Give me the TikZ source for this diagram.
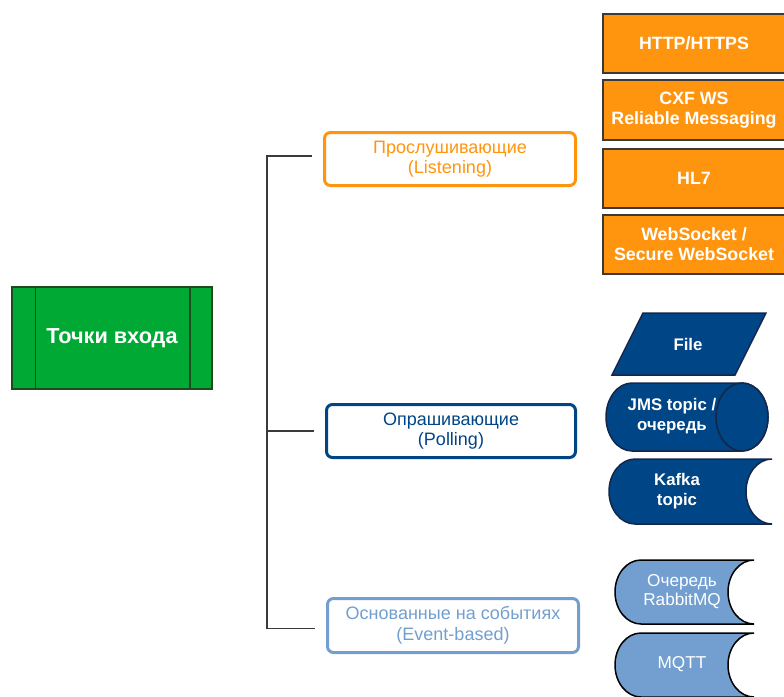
\documentclass[tikz,border=0pt]{standalone}
\usepackage{fontspec}
\setmainfont{Liberation Sans}

\definecolor{entrygreen}{HTML}{00A933}
\definecolor{entryedge}{HTML}{1E4A1E}
\definecolor{listenorange}{HTML}{FF950E}
\definecolor{polldark}{HTML}{004586}
\definecolor{eventlight}{HTML}{729FCF}
\definecolor{linegray}{HTML}{3A3A3A}
\definecolor{shapeedge}{HTML}{14264A}

\tikzset{
    branch/.style={line width=1.5pt, draw=linegray},
    groupbox/.style={draw=#1, line width=3pt, rounded corners=6pt, fill=white,
        text=#1, align=center, inner sep=0pt,
        font=\fontsize{18}{20.5}\selectfont},
    protobox/.style={draw=linegray, line width=1.5pt, fill=listenorange,
        text=white, align=center, inner sep=0pt, minimum width=182pt,
        font=\bfseries\fontsize{17.8}{20}\selectfont},
    shapetext/.style={text=white, align=center, inner sep=0pt,
        font=\bfseries\fontsize{16.8}{19.5}\selectfont},
    eventtext/.style={text=white, align=center, inner sep=0pt,
        font=\fontsize{17.2}{19}\selectfont},
}

\begin{document}
\begin{tikzpicture}[x=1pt, y=-1pt]
    % Canvas
    \clip (0, 0) rectangle (784, 696);

    % Entry point
    \node[draw=entryedge, line width=1.5pt, fill=entrygreen, minimum width=200pt,
        minimum height=102pt, text=white, font=\bfseries\fontsize{21.7}{25}\selectfont]
        (entry) at (112, 338) {Точки входа};
    \draw[draw=entryedge, line width=1.5pt] ([xshift=24pt]entry.north west) -- ([xshift=24pt]entry.south west);
    \draw[draw=entryedge, line width=1.5pt] ([xshift=-23pt]entry.north east) -- ([xshift=-23pt]entry.south east);

    % Groups
    \node[groupbox=listenorange, minimum width=251pt, minimum height=53pt]
        (listen) at (450, 159) {Прослушивающие\\(Listening)};
    \node[groupbox=polldark, minimum width=249pt, minimum height=53pt]
        (poll) at (451, 431) {Опрашивающие\\(Polling)};
    \node[groupbox=eventlight, minimum width=251pt, minimum height=54pt]
        (event) at (453, 625.5) {Основанные на событиях\\(Event-based)};

    % Tree
    \coordinate (trunk) at (267, 431);
    \draw[branch] ([xshift=-11pt, yshift=3pt]listen.west) -| (trunk) |- ([xshift=-11pt, yshift=-3pt]event.west);
    \draw[branch] (trunk) -- ([xshift=-11pt]poll.west);

    % Listening protocols
    \node[protobox, minimum height=59pt] (http) at (694, 43.5) {HTTP/HTTPS};
    \node[protobox, minimum height=60pt] (cxf) at (694, 110) {CXF WS\\Reliable Messaging};
    \node[protobox, minimum height=59pt] (hl7) at (694, 178.5) {HL7};
    \node[protobox, minimum height=59pt] (wsock) at (694, 244.5) {WebSocket /\\Secure WebSocket};

    % Polling sources
    \draw[fill=polldark, draw=shapeedge, line width=1.5pt]
        (643, 313) -- (766, 313) -- (735, 375) -- (612, 375) -- cycle;
    \node[shapetext] (file) at (688, 344) {File};

    \draw[fill=polldark, draw=shapeedge, line width=1.5pt]
        (632, 383) -- (742, 383) arc[start angle=270, end angle=450, x radius=26, y radius=34]
        -- (632, 451) arc[start angle=90, end angle=270, x radius=26, y radius=34] -- cycle;
    \draw[fill=polldark, draw=shapeedge, line width=1.5pt] (742, 417) ellipse[x radius=26, y radius=34];
    \node[shapetext] (jms) at (672, 416) {JMS topic /\\очередь};

    \draw[fill=polldark, draw=shapeedge, line width=1.5pt]
        (635, 459) -- (772, 459) arc[start angle=270, end angle=90, x radius=26, y radius=32.5]
        -- (635, 524) arc[start angle=90, end angle=270, x radius=26, y radius=32.5] -- cycle;
    \node[shapetext] (kafka) at (677, 491) {Kafka\\topic};

    % Event sources
    \draw[fill=eventlight, draw=black, line width=1.5pt]
        (641, 560) -- (754, 560) arc[start angle=270, end angle=90, x radius=26, y radius=32]
        -- (641, 624) arc[start angle=90, end angle=270, x radius=26, y radius=32] -- cycle;
    \node[eventtext] (rabbit) at (682, 592) {Очередь\\RabbitMQ};

    \draw[fill=eventlight, draw=black, line width=1.5pt]
        (641, 633) -- (754, 633) arc[start angle=270, end angle=90, x radius=26, y radius=32]
        -- (641, 697) arc[start angle=90, end angle=270, x radius=26, y radius=32] -- cycle;
    \node[eventtext] (mqtt) at (682, 664) {MQTT};
\end{tikzpicture}
\end{document}
